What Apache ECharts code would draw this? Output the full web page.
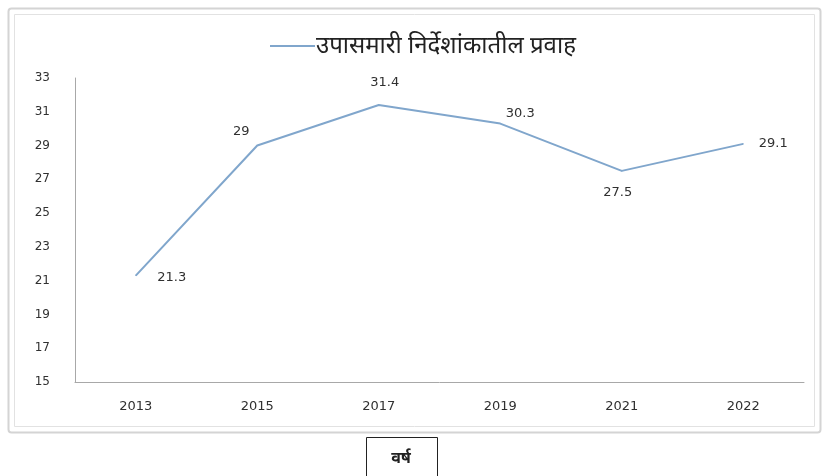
<!DOCTYPE html>
<html>
<head>
<meta charset="utf-8">
<script src="https://cdn.jsdelivr.net/npm/echarts@6/dist/echarts.min.js"></script>
<style>html,body{margin:0;padding:0;background:#fff;}#c{width:825px;height:476px;}</style>
</head>
<body>
<div id="c"></div>
<script>
const years = ['2013','2015','2017','2019','2021','2022'];
const values = [21.3, 29, 31.4, 30.3, 27.5, 29.1];
const seriesName = 'उपासमारी निर्देशांकातील प्रवाह';
const xTitle = 'वर्ष';
const yMin = 15, yMax = 33, yStep = 2;

const labelPos = [
  {show: true, position: 'right', offset: [16, 2]},
  {show: true, position: 'top', offset: [-16, -2]},
  {show: true, position: 'top', offset: [6, -10]},
  {show: true, position: 'top', offset: [20, 2]},
  {show: true, position: 'bottom', offset: [-4, 10]},
  {show: true, position: 'right', offset: [10, 0]}
];

const chart = echarts.init(document.getElementById('c'));
chart.setOption({
  animation: false,
  backgroundColor: '#fff',
  graphic: [
    {type: 'rect', shape: {x: 8.5, y: 8.5, width: 812, height: 424, r: 3}, style: {fill: 'none', stroke: '#d4d4d4', lineWidth: 2}, z: -1},
    {type: 'rect', shape: {x: 14.5, y: 14.5, width: 800, height: 412}, style: {fill: 'none', stroke: '#e2e2e2', lineWidth: 1}, z: -1},
    {type: 'rect', shape: {x: 366.5, y: 437.5, width: 71, height: 45}, style: {fill: '#fff', stroke: '#222', lineWidth: 1}},
    {type: 'text', x: 401, y: 458, style: {text: xTitle, font: 'bold 16px "Noto Sans", sans-serif', fill: '#222', textAlign: 'center', textVerticalAlign: 'middle'}}
  ],
  legend: {
    top: 29, left: 265,
    itemWidth: 45, itemHeight: 2, itemGap: 10,
    icon: 'rect',
    textStyle: {fontSize: 24, color: '#222', fontFamily: '"Noto Sans", sans-serif', padding: [0, 0, 0, -4]},
    data: [seriesName]
  },
  grid: {left: 75, right: 21, top: 78, bottom: 94},
  xAxis: {
    type: 'category', data: years, boundaryGap: true,
    axisLine: {lineStyle: {color: '#a8a8a8'}},
    axisTick: {show: false},
    axisLabel: {margin: 18, fontSize: 13, color: '#303030', fontFamily: 'DejaVu Sans'}
  },
  yAxis: {
    type: 'value', min: yMin, max: yMax, interval: yStep,
    axisLine: {show: true, lineStyle: {color: '#a8a8a8'}},
    axisTick: {show: false},
    splitLine: {show: false},
    axisLabel: {margin: 25, fontSize: 12, color: '#303030', fontFamily: 'DejaVu Sans'}
  },
  series: [{
    name: seriesName, type: 'line',
    data: values.map((v, i) => ({value: v, label: labelPos[i]})),
    symbol: 'circle', symbolSize: 1, showSymbol: true,
    lineStyle: {color: '#80a6cc', width: 2},
    itemStyle: {color: '#80a6cc'},
    label: {show: true, fontSize: 13, color: '#303030', fontFamily: 'DejaVu Sans'}
  }]
});
</script>
</body>
</html>
